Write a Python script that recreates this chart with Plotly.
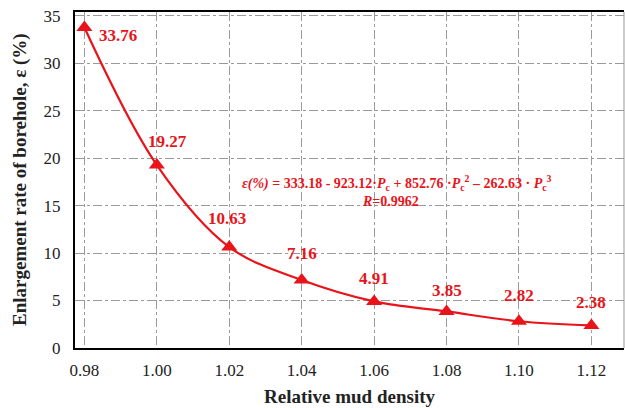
import plotly.graph_objects as go

density = [0.98, 1.00, 1.02, 1.04, 1.06, 1.08, 1.10, 1.12]
enlargement = [33.76, 19.27, 10.63, 7.16, 4.91, 3.85, 2.82, 2.38]
point_labels = ["33.76", "19.27", "10.63", "7.16", "4.91", "3.85", "2.82", "2.38"]
x_ticks = [0.98, 1.00, 1.02, 1.04, 1.06, 1.08, 1.10, 1.12]
x_ticklabels = ["0.98", "1.00", "1.02", "1.04", "1.06", "1.08", "1.10", "1.12"]
y_ticks = [0, 5, 10, 15, 20, 25, 30, 35]

label_xshift = [34, 11, -2, 0, 0, 0, 0, 0]
label_yshift = [-8, 24, 29, 27, 23, 21, 26, 23]

RED = "#e8141a"
FONT = "Times New Roman, Liberation Serif, serif"

fig = go.Figure()
fig.add_trace(go.Scatter(
    x=density, y=enlargement, mode="lines+markers",
    line=dict(color=RED, width=2.2, shape="spline", smoothing=1.0),
    marker=dict(symbol="triangle-up", size=14, color=RED),
    showlegend=False, hoverinfo="x+y",
))

for x, y, t, dx, dy in zip(density, enlargement, point_labels, label_xshift, label_yshift):
    fig.add_annotation(x=x, y=y, text=f"<b>{t}</b>", showarrow=False,
                       xshift=dx, yshift=dy,
                       font=dict(family=FONT, size=17, color=RED))

eq = ("<b><i>ε(%)</i> = 333.18 - 923.12·<i>P</i><sub>c</sub> + 852.76 ·<i>P</i><sub>c</sub><sup>2</sup>"
      " – 262.63 · <i>P</i><sub>c</sub><sup>3</sup></b>")
fig.add_annotation(x=1.0662, y=17.4, text=eq, showarrow=False,
                   font=dict(family=FONT, size=14, color=RED))
fig.add_annotation(x=1.0646, y=15.4, text="<b><i>R</i>=0.9962</b>", showarrow=False,
                   font=dict(family=FONT, size=14, color=RED))

# axis titles
fig.add_annotation(xref="paper", yref="paper", x=0.5, y=0, yshift=-36,
                   xanchor="center", yanchor="top", showarrow=False,
                   text="<b>Relative mud density</b>",
                   font=dict(family=FONT, size=19, color="#222"))
fig.add_annotation(xref="paper", yref="paper", x=0, y=0.5, xshift=-55,
                   xanchor="center", yanchor="middle", showarrow=False, textangle=-90,
                   text="<b>Enlargement rate of borehole, ε (%)</b>",
                   font=dict(family=FONT, size=19, color="#222"))

fig.add_shape(type="line", xref="paper", yref="paper", x0=1, x1=1, y0=0, y1=1,
              line=dict(color="#999999", width=1))

fig.update_xaxes(
    range=[0.9774, 1.129], tickvals=x_ticks, ticktext=x_ticklabels,
    showgrid=True, gridcolor="#9a9a9a", gridwidth=1, griddash="dashdot",
    showline=True, linecolor="black", linewidth=2, mirror=True,
    ticks="", ticklabelstandoff=6, zeroline=False, automargin=False,
    tickfont=dict(family=FONT, size=17, color="#222"),
)
fig.update_yaxes(
    range=[0, 35.4], tickvals=y_ticks,
    showgrid=True, gridcolor="#9a9a9a", gridwidth=1, griddash="dashdot",
    showline=True, linecolor="black", linewidth=2,
    ticks="", ticklabelstandoff=9, zeroline=False, automargin=False,
    tickfont=dict(family=FONT, size=17, color="#222"),
)
fig.update_layout(
    width=625, height=408,
    margin=dict(l=75, r=1, t=12, b=60),
    plot_bgcolor="white", paper_bgcolor="white",
    font=dict(family=FONT, color="#222"),
)
fig.write_html("out.html", config={"displayModeBar": False},
               post_script="document.body.style.margin='0';document.body.style.overflow='hidden';")
